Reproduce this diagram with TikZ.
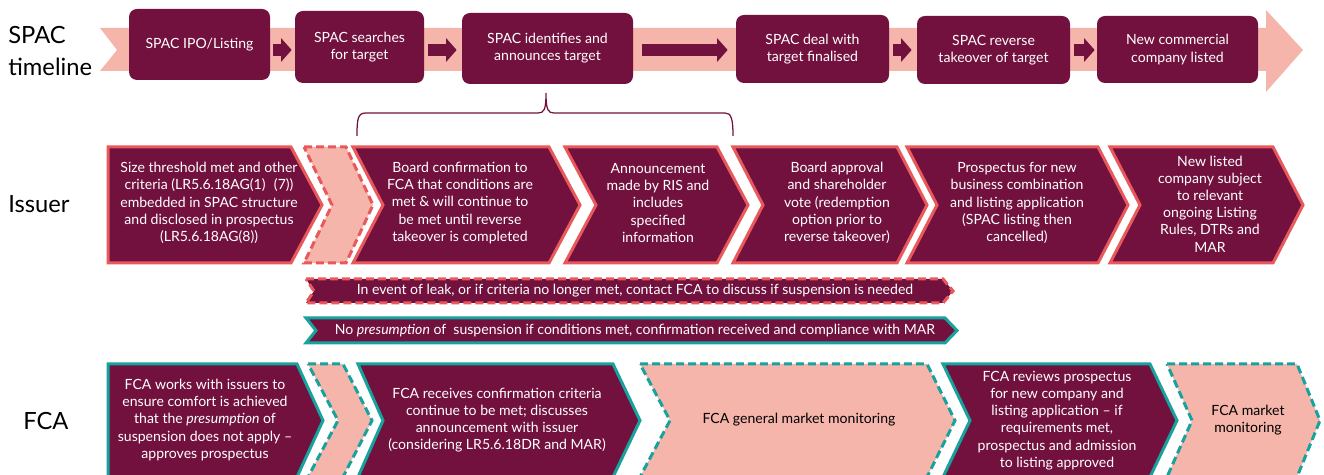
\documentclass[tikz,border=0pt]{standalone}
\usepackage{fontspec}
\setmainfont{Lato}
\usetikzlibrary{arrows.meta}
\definecolor{maroon}{HTML}{72113D}
\definecolor{pinkband}{HTML}{F6B5AB}
\definecolor{coral}{HTML}{E9585B}
\definecolor{tealc}{HTML}{17A29E}
\newcommand\pxu{0.02cm}
\newcommand\chev[7]{\path[#1] (#2,#6) -- (#4,#6) -- (#5,{(#6+#7)/2}) -- (#4,#7) -- (#2,#7) -- (#3,{(#6+#7)/2}) -- cycle;}
\begin{document}
\begin{tikzpicture}[x=0.02cm,y=-0.02cm,
  wtxt/.style={font=\fontsize{8}{9.8}\selectfont, align=center, text=white, inner sep=0pt},
  btxt/.style={font=\fontsize{8}{9.8}\selectfont, align=center, text=black, inner sep=0pt},
  lbl/.style={font=\fontsize{13.5}{18}\selectfont, align=left, anchor=west, inner sep=0pt},
  tbox/.style={fill=maroon, rounded corners=0.16cm, draw=none, align=center, text=white,
     font=\fontsize{8}{9.8}\selectfont, inner sep=0pt},
  ibox/.style={fill=maroon, draw=coral, line width=0.06cm},
  ipink/.style={fill=pinkband, draw=coral, line width=0.06cm, dash pattern=on 0.16cm off 0.08cm},
  fbox/.style={fill=maroon, draw=tealc, line width=0.06cm},
  fpink/.style={fill=pinkband, draw=tealc, line width=0.06cm, dash pattern=on 0.16cm off 0.08cm},
  fatarrow/.style={draw=maroon, line width=0.24cm, -{Triangle[width=0.46cm,length=0.21cm]}},
  bracket/.style={draw=maroon, line width=0.025cm}
]
\useasboundingbox (0,0) rectangle (1324,475);
\clip (0,0) rectangle (1324,475);

% ---------- top band ----------
\fill[pinkband] (100,28) -- (1266,28) -- (1266,10) -- (1303,50) -- (1266,92) -- (1266,71) -- (100,71) -- (117,50) -- cycle;
\coordinate (band) at (0,50);

\node[lbl] (lspac) at (8,51) {SPAC\\timeline};

\node[tbox, minimum width=141*\pxu, minimum height=71*\pxu] (b1) at (199.5,44.5) {SPAC IPO/Listing};
\node[tbox, minimum width=129*\pxu, minimum height=72*\pxu] (b2) at (359.5,47) {SPAC searches\\for target};
\node[tbox, minimum width=171*\pxu, minimum height=71*\pxu] (b3) at (547.5,48.5) {SPAC identifies and\\announces target};
\node[tbox, minimum width=153*\pxu, minimum height=68*\pxu] (b4) at (812.5,49) {SPAC deal with\\target finalised};
\node[tbox, minimum width=153*\pxu, minimum height=68*\pxu] (b5) at (993.5,50) {SPAC reverse\\takeover of target};
\node[tbox, minimum width=161*\pxu, minimum height=67*\pxu] (b6) at (1177.5,49.5) {New commercial\\company listed};

\draw[fatarrow, shorten <=0.06cm, shorten >=0.06cm] (b1.east |- band) -- (b2.west |- band);
\draw[fatarrow, shorten <=0.08cm, shorten >=0.1cm] (b2.east |- band) -- (b3.west |- band);
\draw[fatarrow, shorten <=0.18cm, shorten >=0.16cm] (b3.east |- band) -- (b4.west |- band);
\draw[fatarrow, shorten <=0.08cm, shorten >=0.1cm] (b4.east |- band) -- (b5.west |- band);
\draw[fatarrow, shorten <=0.08cm, shorten >=0.04cm] (b5.east |- band) -- (b6.west |- band);

% brace
\draw[bracket] (357,136) .. controls (357,118) and (358,113) .. (366,113) -- (538,113)
  .. controls (544,113) and (546,110) .. (546,93) .. controls (546,110) and (548,113) .. (554,113)
  -- (725,113) .. controls (731,113) and (733,118) .. (733,136);

% ---------- Issuer row ----------
\node[lbl] (lissuer) at (8,204) {Issuer};
\chev{ibox}{108}{108}{291}{322}{147}{263}
\chev{ipink}{304}{332}{346}{373}{147}{263}
\chev{ibox}{353}{383}{549}{580}{147}{263}
\chev{ibox}{565}{596}{717}{748}{147}{263}
\chev{ibox}{733}{763}{897}{927}{147}{263}
\chev{ibox}{907}{937}{1098}{1128}{147}{263}
\chev{ibox}{1110}{1140}{1273}{1303}{147}{263}

\node[wtxt] (i1) at (209,203) {Size threshold met and other\\criteria (LR5.6.18AG(1)\hspace{0.6em}(7))\\embedded in SPAC structure\\and disclosed in prospectus\\(LR5.6.18AG(8))};
\node[wtxt] (i3) at (460,203) {Board confirmation to\\FCA that conditions are\\met \& will continue to\\be met until reverse\\takeover is completed};
\node[wtxt] (i4) at (658,203) {Announcement\\made by RIS and\\includes\\specified\\information};
\node[wtxt] (i5) at (837,203) {Board approval\\and shareholder\\vote (redemption\\option prior to\\reverse takeover)};
\node[wtxt] (i6) at (1017,203) {Prospectus for new\\business combination\\and listing application\\(SPAC listing then\\cancelled)};
\node[wtxt] (i7) at (1210,204) {New listed\\company subject\\to relevant\\ongoing Listing\\Rules, DTRs and\\MAR};

% ---------- banners ----------
\chev{ipink, fill=maroon}{306}{314}{943}{953}{279}{303}
\node[wtxt] (leak) at (635,291) {In event of leak, or if criteria no longer met, contact FCA to discuss if suspension is needed};
\chev{fbox}{306}{316}{945}{957}{318}{343}
\node[wtxt] (nopres) at (635,331) {No \emph{presumption} of\ \ suspension if conditions met, confirmation received and compliance with MAR};

% ---------- FCA row ----------
\node[lbl] (lfca) at (23,421) {FCA};
\chev{fbox}{108}{108}{297}{323}{364}{477}
\chev{fpink}{308}{338}{343}{372}{364}{477}
\chev{fbox}{358}{383}{613}{640}{364}{477}
\chev{fpink}{640}{670}{927}{955}{364}{477}
\chev{fbox}{943}{970}{1150}{1177}{364}{477}
\chev{fpink}{1167}{1192}{1297}{1320}{364}{477}

\node[wtxt] (f1) at (205,420) {FCA works with issuers to\\ensure comfort is achieved\\that the \emph{presumption} of\\suspension does not apply --\\approves prospectus};
\node[wtxt] (f3) at (497,420) {FCA receives confirmation criteria\\continue to be met; discusses\\announcement with issuer\\(considering LR5.6.18DR and MAR)};
\node[btxt] (f4) at (799,420) {FCA general market monitoring};
\node[wtxt] (f5) at (1057,420.5) {FCA reviews prospectus\\for new company and\\listing application -- if\\requirements met,\\prospectus and admission\\to listing approved};
\node[btxt] (f6) at (1248,420) {FCA market\\monitoring};
\end{tikzpicture}
\end{document}
